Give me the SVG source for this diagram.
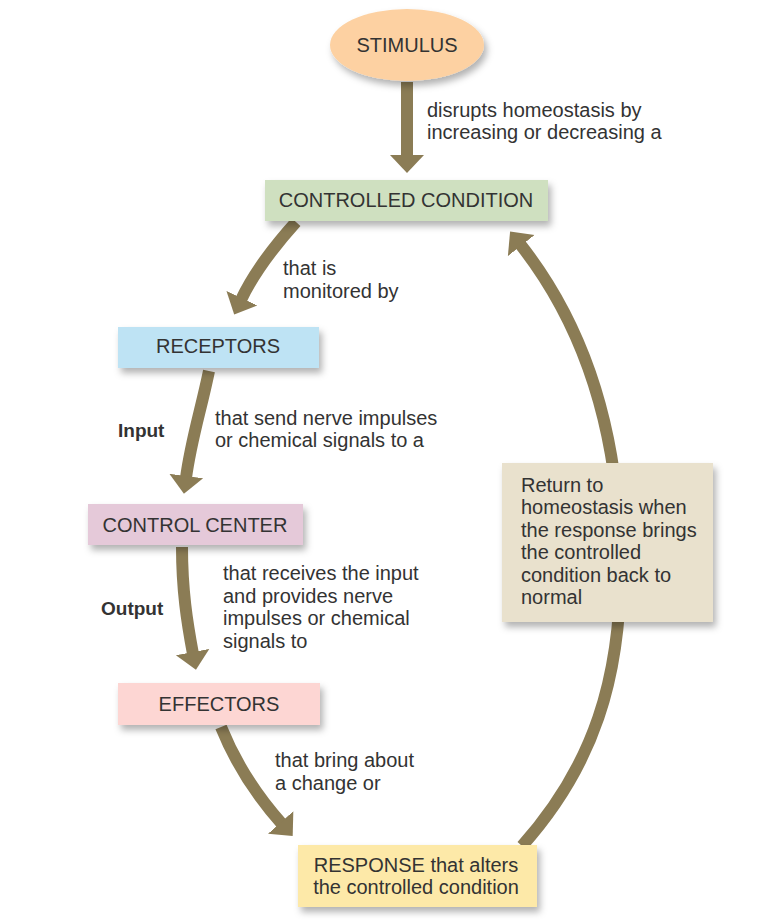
<svg xmlns="http://www.w3.org/2000/svg" width="773" height="923" viewBox="0 0 773 923">
<defs>
<filter id="sh" x="-20%" y="-30%" width="140%" height="170%">
<feDropShadow dx="3" dy="5" stdDeviation="3.5" flood-color="#000" flood-opacity="0.3"/>
</filter>
<marker id="ah" markerUnits="userSpaceOnUse" markerWidth="36" markerHeight="36" viewBox="0 0 36 36" refX="2" refY="18" orient="auto">
<path d="M0,1 L18,18 L0,35 z" fill="#8b7c55"/>
</marker>
</defs>
<style>
.t{font-family:"Liberation Sans",Arial,sans-serif;font-size:20px;fill:#333}
.c{text-anchor:middle}
.b{font-weight:bold}
.box{filter:url(#sh)}
.arr{fill:none;stroke:#8b7c55;stroke-width:12;marker-end:url(#ah)}
</style>
<rect width="773" height="923" fill="#fff"/>
<g id="connectors">
<path class="arr" d="M407 82 L407 157"/>
<path class="arr" d="M296 222 C278 242 256 268 241 300"/>
<path class="arr" d="M209 371 C201 410 191 440 186 478"/>
<path class="arr" d="M182 547 C182 590 187 622 193 654"/>
<path class="arr" d="M221 727 C236 764 256 795 282 824"/>
<path class="arr" d="M522 846 C590 770 625 680 620 545 C616 420 580 320 520 244"/>
<g class="t">
<text x="427" y="117">disrupts homeostasis by</text>
<text x="427" y="139">increasing or decreasing a</text>
<text x="283" y="275">that is</text>
<text x="283" y="298">monitored by</text>
<text x="118" y="437" class="b" style="font-size:19px">Input</text>
<text x="215" y="425">that send nerve impulses</text>
<text x="215" y="447">or chemical signals to a</text>
<text x="101" y="615" class="b" style="font-size:19px">Output</text>
<text x="223" y="580">that receives the input</text>
<text x="223" y="603">and provides nerve</text>
<text x="223" y="625">impulses or chemical</text>
<text x="223" y="648">signals to</text>
<text x="275" y="767">that bring about</text>
<text x="275" y="790">a change or</text>
</g>
</g>
<g id="stimulus">
<ellipse class="box" cx="407" cy="45" rx="77" ry="36" fill="#fdd1a2"/>
<text class="t c" x="407" y="52">STIMULUS</text>
</g>
<g id="controlled-condition">
<rect class="box" x="265" y="180" width="283" height="41" fill="#cfe0c0"/>
<text class="t c" x="406" y="207">CONTROLLED CONDITION</text>
</g>
<g id="receptors">
<rect class="box" x="118" y="327" width="201" height="41" fill="#bee3f4"/>
<text class="t c" x="218" y="353">RECEPTORS</text>
</g>
<g id="control-center">
<rect class="box" x="88" y="504" width="215" height="41" fill="#e5c9d9"/>
<text class="t c" x="195" y="532">CONTROL CENTER</text>
</g>
<g id="effectors">
<rect class="box" x="118" y="683" width="202" height="42" fill="#fdd6d3"/>
<text class="t c" x="219" y="711">EFFECTORS</text>
</g>
<g id="response">
<rect class="box" x="298" y="845" width="239" height="62" fill="#fde9a8"/>
<text class="t c" x="416" y="872">RESPONSE that alters</text>
<text class="t c" x="416" y="894">the controlled condition</text>
</g>
<g id="return-box">
<rect class="box" x="502" y="463" width="211" height="159" fill="#e9e1cd"/>
<g class="t">
<text x="521" y="492">Return to</text>
<text x="521" y="514">homeostasis when</text>
<text x="521" y="537">the response brings</text>
<text x="521" y="559">the controlled</text>
<text x="521" y="582">condition back to</text>
<text x="521" y="604">normal</text>
</g>
</g>
</svg>
